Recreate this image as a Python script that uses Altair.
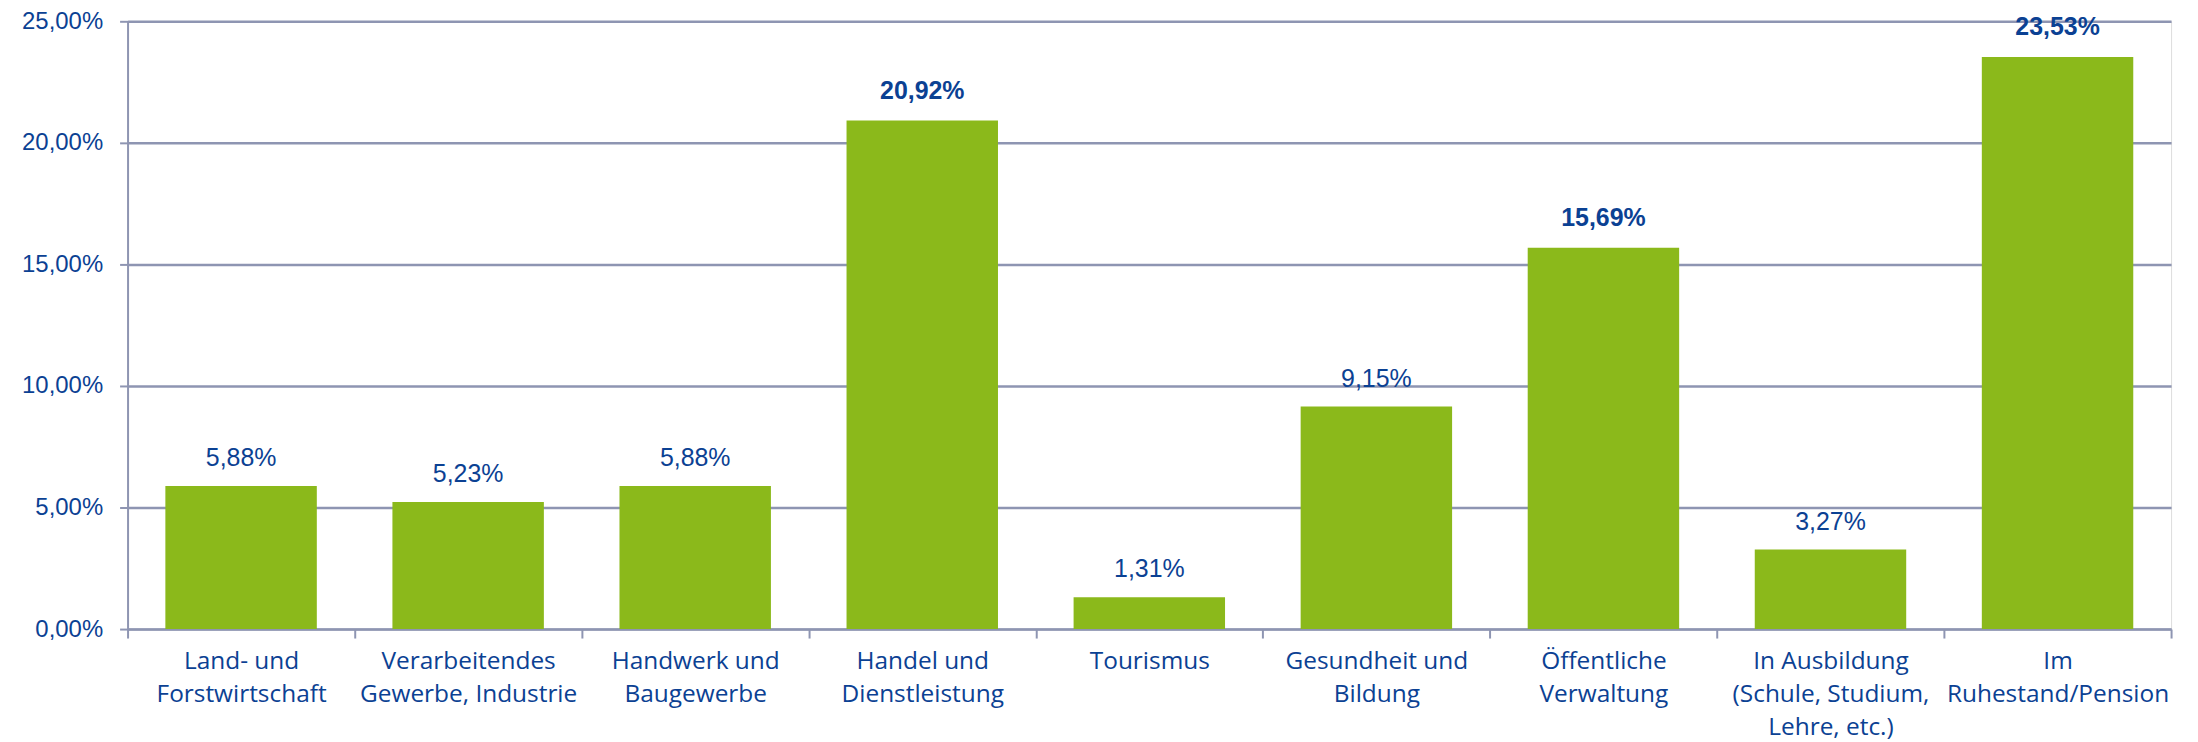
import altair as alt
import pandas as pd

categories = [
    "Land- und|Forstwirtschaft",
    "Verarbeitendes|Gewerbe, Industrie",
    "Handwerk und|Baugewerbe",
    "Handel und|Dienstleistung",
    "Tourismus",
    "Gesundheit und|Bildung",
    "Öffentliche|Verwaltung",
    "In Ausbildung|(Schule, Studium,|Lehre, etc.)",
    "Im|Ruhestand/Pension",
]
values = [0.0588, 0.0523, 0.0588, 0.2092, 0.0131, 0.0915, 0.1569, 0.0327, 0.2353]
bold_flags = [False, False, False, True, False, False, True, False, True]

df = pd.DataFrame({"cat": categories, "val": values, "bold": bold_flags})

BLUE = "#0b4193"
GREEN = "#8bb91b"
GRID = "#8e95b2"

x = alt.X("cat:N", sort=categories, title=None,
          scale=alt.Scale(paddingInner=0, paddingOuter=0),
          axis=alt.Axis(labelExpr="split(datum.label, '|')", labelAngle=0,
                        labelFont="Open Sans", labelFontSize=24.5, labelColor=BLUE,
                        labelLineHeight=33, labelPadding=24, labelBaseline="middle",
                        tickBand="extent", tickSize=9, tickColor=GRID, tickWidth=2,
                        domainColor=GRID, domainWidth=2, grid=False, labelLimit=400))
y = alt.Y("val:Q", title=None,
          scale=alt.Scale(domain=[0, 0.25]),
          axis=alt.Axis(values=[0, 0.05, 0.10, 0.15, 0.20, 0.25],
                        labelExpr="replace(format(datum.value, '.2%'), '.', ',')",
                        labelFont="Liberation Sans", labelFontSize=24, labelColor=BLUE,
                        labelPadding=17, tickSize=8, tickColor=GRID, tickWidth=2,
                        domainColor=GRID, domainWidth=2,
                        grid=True, gridColor=GRID, gridWidth=2.5, gridOpacity=1))

base = alt.Chart(df).encode(x=x, y=y)

bars = base.mark_bar(color=GREEN, width=alt.RelativeBandSize(0.667))

labels_normal = base.transform_filter("!datum.bold").transform_calculate(
    lab="replace(format(datum.val, '.2%'), '.', ',')"
).mark_text(font="Liberation Sans", fontSize=25, color=BLUE, dy=-20, baseline="alphabetic").encode(text="lab:N")

labels_bold = base.transform_filter("datum.bold").transform_calculate(
    lab="replace(format(datum.val, '.2%'), '.', ',')"
).mark_text(font="Liberation Sans", fontSize=25, fontWeight="bold", color=BLUE, dy=-22, baseline="alphabetic").encode(text="lab:N")

chart = (bars + labels_normal + labels_bold).properties(
    width=2051, height=610,
    autosize=alt.AutoSizeParams(type="none"),
    padding={"left": 120, "top": 12, "right": 19, "bottom": 112},
).configure_view(stroke=None).configure(background="white")

chart.save("out.html", embed_options={"renderer": "svg", "actions": False})
